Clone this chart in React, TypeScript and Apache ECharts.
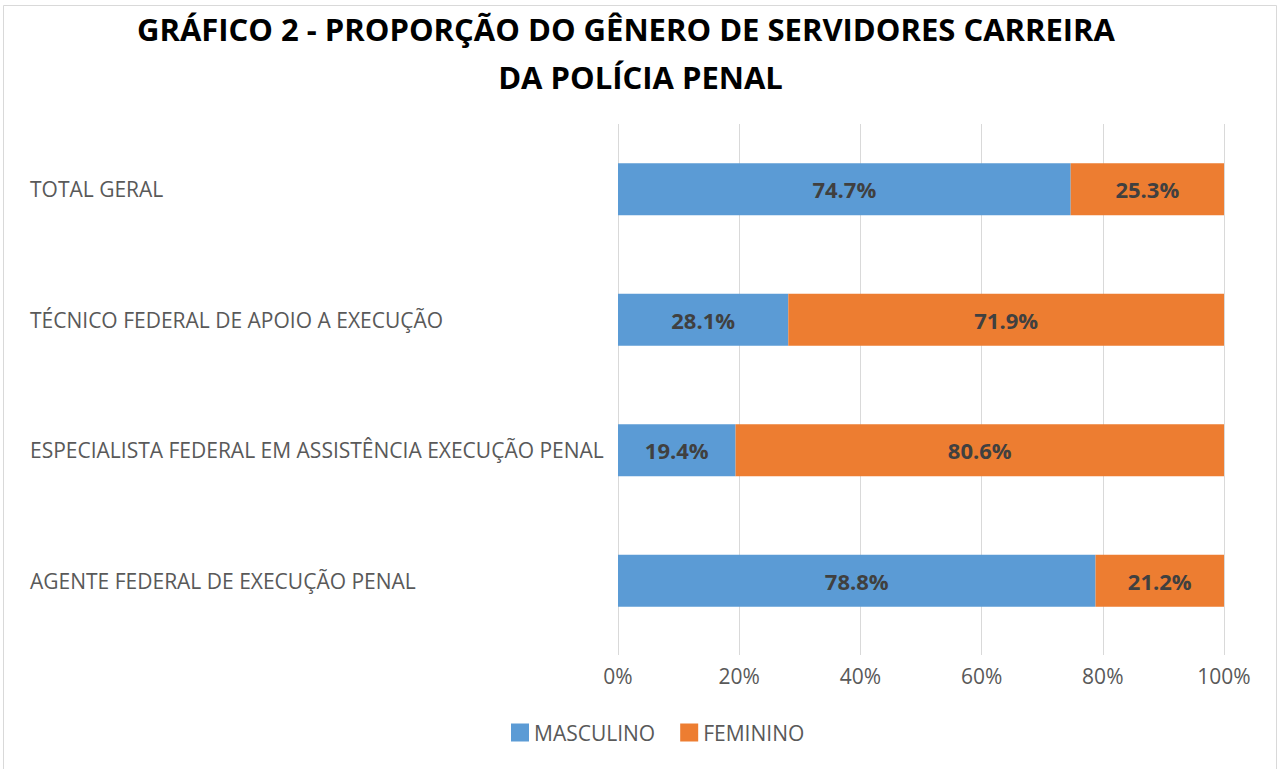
import React, { useEffect, useRef } from "react";
import * as echarts from "echarts";

const categories = [
  "AGENTE FEDERAL DE EXECUÇÃO PENAL",
  "ESPECIALISTA FEDERAL EM ASSISTÊNCIA EXECUÇÃO PENAL",
  "TÉCNICO FEDERAL DE APOIO A EXECUÇÃO",
  "TOTAL GERAL",
];
const masculino = [78.8, 19.4, 28.1, 74.7];
const feminino = [21.2, 80.6, 71.9, 25.3];
const seriesNames = ["MASCULINO", "FEMININO"];
const titleLine1 = "GRÁFICO 2 - PROPORÇÃO DO GÊNERO DE SERVIDORES CARREIRA";
const titleLine2 = "DA POLÍCIA PENAL";

const FONT = "'Open Sans', sans-serif";

export default function App() {
  const ref = useRef<HTMLDivElement>(null);
  useEffect(() => {
    const chart = echarts.init(ref.current!, null, { renderer: "svg" });
    const label = {
      show: true,
      position: "inside",
      formatter: (p: any) => p.value.toFixed(1) + "%",
      color: "#404040",
      fontWeight: "bold",
      fontSize: 22,
      fontFamily: FONT,
    };
    const titleStyle = {
      fontFamily: FONT,
      fontWeight: "bold",
      fontSize: 31,
      color: "#000000",
      lineHeight: 48,
    };
    chart.setOption({
      animation: false,
      backgroundColor: "#ffffff",
      graphic: [
        {
          type: "rect",
          shape: { x: 3.5, y: 5.5, width: 1273, height: 775 },
          style: { fill: "none", stroke: "#D9D9D9", lineWidth: 1 },
          silent: true,
          z: -1,
        },
      ],
      title: [
        { text: titleLine1, left: 137, top: 5, padding: 0, textStyle: titleStyle },
        { text: titleLine2, left: "center", top: 53, padding: 0, textStyle: titleStyle },
      ],
      legend: {
        top: 717,
        left: 506,
        itemWidth: 18,
        itemHeight: 18,
        itemGap: 25,
        icon: "rect",
        textStyle: { fontFamily: FONT, fontSize: 21, color: "#595959" },
        data: seriesNames,
      },
      grid: { left: 618, right: 57, top: 124, bottom: 123, containLabel: false },
      xAxis: {
        type: "value",
        min: 0,
        max: 100,
        interval: 20,
        axisLabel: {
          formatter: "{value}%",
          fontFamily: FONT,
          fontSize: 21,
          color: "#595959",
          margin: 19,
        },
        axisLine: { show: false },
        axisTick: { show: true, length: 9, lineStyle: { color: "#D9D9D9" } },
        splitLine: { lineStyle: { color: "#D9D9D9", width: 1 } },
      },
      yAxis: {
        type: "category",
        data: categories,
        axisLine: { show: false },
        axisTick: { show: false },
        axisLabel: {
          align: "left",
          margin: 588,
          fontFamily: FONT,
          fontSize: 21,
          color: "#595959",
        },
      },
      series: [
        {
          name: seriesNames[0],
          type: "bar",
          stack: "total",
          data: masculino,
          barWidth: 52,
          itemStyle: { color: "#5B9BD5" },
          label,
        },
        {
          name: seriesNames[1],
          type: "bar",
          stack: "total",
          data: feminino,
          barWidth: 52,
          itemStyle: { color: "#ED7D31" },
          label,
        },
      ],
    });
    return () => chart.dispose();
  }, []);
  return (
    <div
      ref={ref}
      style={{
        position: "fixed",
        left: 0,
        top: 0,
        width: 1281,
        height: 769,
      }}
    />
  );
}
